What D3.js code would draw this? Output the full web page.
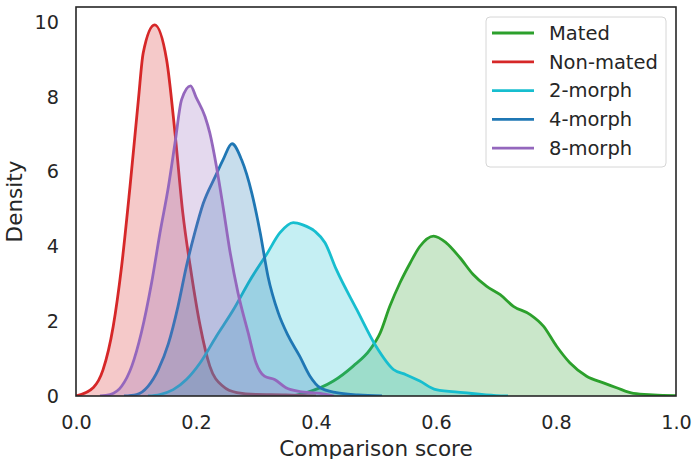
<!DOCTYPE html>
<html>
<head>
<meta charset="utf-8">
<script src="https://cdn.jsdelivr.net/npm/d3@7"></script>
<style>
  body { margin: 0; background: #fff; }
  text { font-family: "DejaVu Sans", sans-serif; fill: #262626; }
</style>
</head>
<body>
<script>
// series names and colours (tab10)
let names = ["Mated", "Non-mated", "2-morph", "4-morph", "8-morph"];
let colors = ["#2ca02c", "#d62728", "#17becf", "#1f77b4", "#9467bd"];

// density curves: [score, density]
let mated = [[0.36, 0], [0.384, 0.09], [0.429, 0.4], [0.462, 0.8], [0.49, 1.24], [0.507, 1.69],
  [0.523, 2.4], [0.54, 3.03], [0.557, 3.56], [0.573, 4.0], [0.596, 4.28], [0.617, 4.1],
  [0.64, 3.7], [0.662, 3.25], [0.684, 2.94], [0.707, 2.71], [0.729, 2.4], [0.757, 2.18],
  [0.779, 1.87], [0.801, 1.33], [0.823, 0.89], [0.851, 0.53], [0.879, 0.35], [0.901, 0.22],
  [0.929, 0.07], [0.962, 0.03], [1.0, 0.01]];
let nonMated = [[0.0, 0], [0.029, 0.23], [0.045, 0.7], [0.062, 1.86], [0.076, 3.47], [0.09, 5.6],
  [0.104, 7.93], [0.112, 9.18], [0.131, 9.93], [0.151, 9.0], [0.165, 7.04], [0.178, 4.9],
  [0.192, 3.3], [0.207, 1.87], [0.223, 0.8], [0.245, 0.26], [0.268, 0.09], [0.3, 0.04],
  [0.35, 0.03], [0.4, 0]];
let morph2 = [[0.12, 0], [0.14, 0.04], [0.162, 0.17], [0.184, 0.44], [0.207, 0.89], [0.234, 1.6],
  [0.262, 2.3], [0.29, 3.1], [0.318, 3.8], [0.34, 4.37], [0.362, 4.64], [0.378, 4.58],
  [0.398, 4.41], [0.415, 4.1], [0.434, 3.38], [0.468, 2.31], [0.5, 1.33], [0.529, 0.71],
  [0.55, 0.57], [0.573, 0.4], [0.6, 0.17], [0.646, 0.09], [0.7, 0.01], [0.72, 0]];
let morph4 = [[0.08, 0], [0.101, 0.04], [0.12, 0.26], [0.137, 0.7], [0.154, 1.4], [0.17, 2.4],
  [0.184, 3.47], [0.198, 4.37], [0.212, 5.15], [0.232, 5.87], [0.245, 6.32], [0.26, 6.75],
  [0.276, 6.32], [0.293, 5.43], [0.307, 4.37], [0.32, 3.2], [0.337, 2.23], [0.354, 1.6],
  [0.373, 1.06], [0.39, 0.53], [0.407, 0.22], [0.434, 0.09], [0.47, 0.03], [0.51, 0]];
let morph8 = [[0.04, 0], [0.057, 0.04], [0.076, 0.26], [0.093, 0.8], [0.109, 1.7], [0.126, 3.03],
  [0.14, 4.37], [0.154, 5.6], [0.165, 6.77], [0.176, 7.93], [0.191, 8.3], [0.2, 8.0],
  [0.215, 7.48], [0.223, 7.04], [0.234, 6.15], [0.245, 5.08], [0.256, 3.93], [0.27, 2.76],
  [0.287, 1.69], [0.3, 0.89], [0.314, 0.53], [0.331, 0.44], [0.35, 0.22], [0.373, 0.12],
  [0.407, 0.07], [0.43, 0]];
let series = [mated, nonMated, morph2, morph4, morph8];

let xTicks = [0, 0.2, 0.4, 0.6, 0.8, 1.0];
let yTicks = [0, 2, 4, 6, 8, 10];

let width = 692, height = 459;
let margin = { top: 7, right: 16, bottom: 63, left: 76 };
let w = width - margin.left - margin.right;
let h = height - margin.top - margin.bottom;

let svg = d3.select("body").append("svg")
    .attr("width", width)
    .attr("height", height);

let g = svg.append("g").attr("transform", "translate(" + margin.left + "," + margin.top + ")");

let x = d3.scaleLinear().domain([0, 1]).range([0, w]);
let y = d3.scaleLinear().domain([0, 10.41]).range([h, 0]);

g.append("clipPath").attr("id", "clip")
    .append("rect").attr("width", w).attr("height", h);

let plot = g.append("g").attr("clip-path", "url(#clip)");

let area = d3.area()
    .x(function (d) { return x(d[0]); })
    .y0(y(0))
    .y1(function (d) { return y(d[1]); })
    .curve(d3.curveMonotoneX);

let line = d3.line()
    .x(function (d) { return x(d[0]); })
    .y(function (d) { return y(d[1]); })
    .curve(d3.curveMonotoneX);

series.forEach(function (s, i) {
    plot.append("path")
        .attr("d", area(s))
        .attr("fill", colors[i])
        .attr("fill-opacity", 0.25);
    plot.append("path")
        .attr("d", line(s))
        .attr("fill", "none")
        .attr("stroke", colors[i])
        .attr("stroke-width", 2.8)
        .attr("stroke-linejoin", "round");
});

// axes (no tick marks, seaborn white style)
let xAxis = g.append("g").attr("transform", "translate(0," + h + ")")
    .call(d3.axisBottom(x).tickValues(xTicks).tickFormat(d3.format(".1f")).tickSize(0).tickPadding(19));
let yAxis = g.append("g")
    .call(d3.axisLeft(y).tickValues(yTicks).tickSize(0).tickPadding(17));
[xAxis, yAxis].forEach(function (a) {
    a.select(".domain").remove();
    a.selectAll("text").attr("font-size", 19.2).attr("fill", "#262626")
        .attr("font-family", "DejaVu Sans");
});

// frame
g.append("rect")
    .attr("width", w).attr("height", h)
    .attr("fill", "none")
    .attr("stroke", "#262626")
    .attr("stroke-width", 1.6);

g.append("text")
    .attr("x", w / 2).attr("y", h + 59.5)
    .attr("text-anchor", "middle")
    .attr("font-size", 21.5)
    .text("Comparison score");

g.append("text")
    .attr("transform", "translate(-54," + h / 2 + ") rotate(-90)")
    .attr("text-anchor", "middle")
    .attr("font-size", 21.5)
    .text("Density");

// legend
let legend = g.append("g").attr("transform", "translate(" + (486 - margin.left) + "," + (17 - margin.top) + ")");
legend.append("rect")
    .attr("width", 180).attr("height", 150)
    .attr("rx", 4)
    .attr("fill", "#fff").attr("fill-opacity", 0.8)
    .attr("stroke", "#d6d6d6").attr("stroke-width", 1);

names.forEach(function (n, i) {
    let row = legend.append("g").attr("transform", "translate(0," + (16 + i * 28.8) + ")");
    row.append("line")
        .attr("x1", 6).attr("x2", 48)
        .attr("stroke", colors[i]).attr("stroke-width", 2.8);
    row.append("text")
        .attr("x", 63).attr("dy", "0.35em")
        .attr("font-size", 19.5)
        .text(n);
});
</script>
</body>
</html>
